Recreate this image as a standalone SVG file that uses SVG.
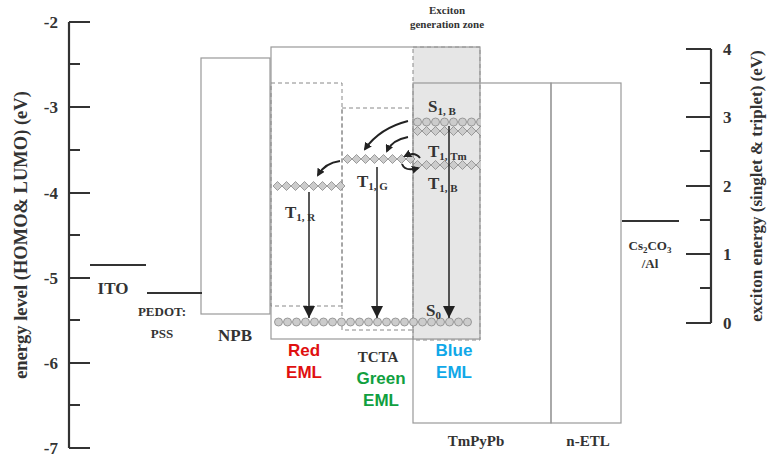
<svg xmlns="http://www.w3.org/2000/svg" width="769" height="460" viewBox="0 0 769 460">
<style>
.t{font-family:"Liberation Serif",serif;font-weight:bold;fill:#333}
.c{font-family:"Liberation Sans",sans-serif;font-weight:bold;font-size:17px;text-anchor:middle}
.ax{stroke:#333;stroke-width:2.2;fill:none}
.box{fill:none;stroke:#999;stroke-width:1.2}
.dash{fill:none;stroke:#888;stroke-width:1;stroke-dasharray:4 3}
.ci{fill:#ccc;stroke:#888;stroke-width:0.8}
.ar{stroke:#222;stroke-width:2;fill:none;marker-end:url(#ah)}
</style>
<defs>
<marker id="ah" markerWidth="8" markerHeight="8" refX="6" refY="4" orient="auto" markerUnits="userSpaceOnUse" viewBox="0 0 8 8"><path d="M0,0 L8,4 L0,8 z" fill="#222"/></marker>
<marker id="ahv" markerWidth="14" markerHeight="12" refX="12" refY="6" orient="auto" markerUnits="userSpaceOnUse"><path d="M0,0 L12,6 L0,12 z" fill="#222"/></marker>
<pattern id="circ" width="9" height="10" patternUnits="userSpaceOnUse"><circle cx="4.5" cy="5" r="4" class="ci"/></pattern>
<pattern id="dia" width="9" height="10" patternUnits="userSpaceOnUse"><path d="M0,5 L4.5,0.5 L9,5 L4.5,9.5 z" class="ci"/></pattern>
</defs>
<rect width="769" height="460" fill="#fff"/>
<g id="left-axis">
<path class="ax" d="M69,22 V448 M69,22 H90 M69,107 H90 M69,193 H90 M69,278 H90 M69,363 H90 M69,448 H90 M69,64 H80 M69,150 H80 M69,235 H80 M69,320 H80 M69,405 H80"/>
<g class="t" font-size="17" text-anchor="end">
<text x="58" y="28">-2</text><text x="58" y="113">-3</text><text x="58" y="199">-4</text><text x="58" y="284">-5</text><text x="58" y="369">-6</text><text x="58" y="454">-7</text></g>
<text class="t" font-size="18.5" transform="translate(27,235) rotate(-90)" text-anchor="middle">energy level (HOMO&amp; LUMO) (eV)</text>
</g>
<g id="right-axis">
<path class="ax" d="M711,49 V323 M686,49 H711 M686,117 H711 M686,186 H711 M686,254 H711 M686,323 H711 M700,83 H711 M700,151 H711 M700,220 H711 M700,288 H711"/>
<g class="t" font-size="17"><text x="723" y="55">4</text><text x="723" y="123">3</text><text x="723" y="192">2</text><text x="723" y="260">1</text><text x="723" y="329">0</text></g>
<text class="t" font-size="17" transform="translate(762,186) rotate(-90)" text-anchor="middle">exciton energy (singlet &amp; triplet) (eV)</text>
</g>
<g id="layers">
<rect x="413" y="47" width="67" height="293" fill="#e6e6e6" stroke="#888" stroke-dasharray="4 3"/>
<rect class="box" x="201" y="58" width="69" height="256"/>
<rect class="box" x="271" y="47" width="209" height="292"/>
<rect class="dash" x="271" y="83" width="71" height="223"/>
<rect class="dash" x="342" y="108" width="71" height="222"/>
<rect class="box" x="413" y="83" width="138" height="340"/>
<rect class="box" x="551" y="83" width="70" height="340"/>
<path d="M90,265 H146 M147,293 H202 M622,221 H679" stroke="#333" stroke-width="2"/>
</g>
<g id="levels">
<rect transform="translate(274,317)" width="198" height="10" fill="url(#circ)"/>
<rect transform="translate(273,181)" width="72" height="10" fill="url(#dia)"/>
<rect transform="translate(343,154)" width="72" height="10" fill="url(#dia)"/>
<rect transform="translate(413,117)" width="68" height="10" fill="url(#circ)"/>
<rect transform="translate(413,126)" width="68" height="10" fill="url(#dia)"/>
<rect transform="translate(413,160)" width="68" height="10" fill="url(#dia)"/>
</g>
<g id="connectors">
<path d="M309,192 V318" stroke="#222" stroke-width="1.5" marker-end="url(#ahv)"/>
<path d="M377,167 V318" stroke="#222" stroke-width="1.5" marker-end="url(#ahv)"/>
<path d="M449,126 V318" stroke="#222" stroke-width="1.5" marker-end="url(#ahv)"/>
<path class="ar" d="M408,121 Q380,128 365,149"/>
<path class="ar" d="M408,137 Q392,140 387,151"/>
<path class="ar" d="M340,161 Q325,163 318,175"/>
<path class="ar" d="M420,158 Q415,151 405,156"/>
<path class="ar" d="M402,164 Q405,172 418,168"/>
</g>
<g id="labels" class="t">
<text x="428" y="112" font-size="17">S<tspan font-size="11" dy="3">1, B</tspan></text>
<text x="428" y="157" font-size="17">T<tspan font-size="11" dy="3">1, Tm</tspan></text>
<text x="428" y="189" font-size="17">T<tspan font-size="11" dy="3">1, B</tspan></text>
<text x="357" y="187" font-size="17">T<tspan font-size="11" dy="3">1, G</tspan></text>
<text x="285" y="218" font-size="17">T<tspan font-size="11" dy="3">1, R</tspan></text>
<text x="426" y="316" font-size="17">S<tspan font-size="11" dy="3">0</tspan></text>
<text x="447" y="14" font-size="11" text-anchor="middle">Exciton</text>
<text x="447" y="28" font-size="11" text-anchor="middle">generation zone</text>
<text x="113" y="294" font-size="17" text-anchor="middle">ITO</text>
<text x="162" y="316" font-size="13" text-anchor="middle">PEDOT:</text>
<text x="162" y="338" font-size="13" text-anchor="middle">PSS</text>
<text x="235" y="341" font-size="17" text-anchor="middle">NPB</text>
<text x="378" y="362" font-size="15" text-anchor="middle">TCTA</text>
<text x="476" y="446" font-size="15" text-anchor="middle">TmPyPb</text>
<text x="588" y="446" font-size="15" text-anchor="middle">n-ETL</text>
<text x="650" y="250" font-size="13" text-anchor="middle">Cs<tspan font-size="9" dy="3">2</tspan><tspan dy="-3">CO</tspan><tspan font-size="9" dy="3">3</tspan></text>
<text x="650" y="268" font-size="13" text-anchor="middle">/Al</text>
</g>
<g id="eml">
<text class="c" x="304" y="356" fill="#e01010">Red</text><text class="c" x="304" y="378" fill="#e01010">EML</text>
<text class="c" x="381" y="384" fill="#10a040">Green</text><text class="c" x="381" y="406" fill="#10a040">EML</text>
<text class="c" x="454" y="356" fill="#10a8e8">Blue</text><text class="c" x="454" y="378" fill="#10a8e8">EML</text>
</g>
</svg>
